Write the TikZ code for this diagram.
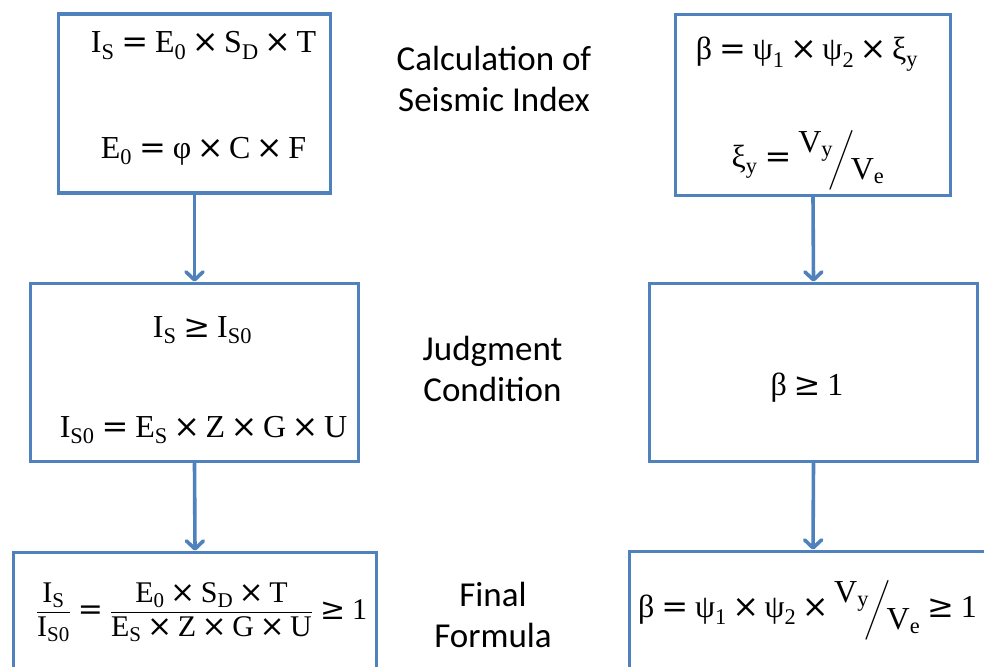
\documentclass[tikz,border=0pt]{standalone}
\usepackage{amsmath}
\usepackage{fontspec}
\setmainfont{Carlito}
\setmathrm{Liberation Serif}
\newfontfamily\lsr{Liberation Serif}
\newfontfamily\dvs{DejaVu Serif}
\usetikzlibrary{arrows.meta}
\definecolor{boxblue}{HTML}{4F81BD}
\newcommand\gk[1]{\text{\lsr #1}}
\newcommand\rr[1]{\mathrm{#1}}
\newcommand\teq{\mathrel{\text{\dvs =}}}
\newcommand\tx{\mathbin{\text{\dvs ×}}}
\newcommand\tge{\mathrel{\text{\dvs ≥}}}
\newcommand\vfr{\raisebox{0.45em}{$\rr{V}_{\rr{y}}$}\mkern-3mu\bigg/\mkern-3mu\raisebox{-0.4em}{$\rr{V}_{\rr{e}}$}}
\tikzset{
  box/.style={draw=boxblue, line width=3.6pt, rectangle, inner sep=0pt},
  eq/.style={font=\fontsize{32}{38}\selectfont, inner sep=0pt, anchor=base},
  eqs/.style={eq, font=\fontsize{30}{36}\selectfont},
  lbl/.style={font=\fontsize{35}{41}\selectfont, inner sep=0pt, anchor=base, align=center},
  flow/.style={draw=boxblue, line width=3.6pt, line cap=round, -{Straight Barb[length=8pt,width=17pt,line cap=round,line join=round]}}
}
\begin{document}
\begin{tikzpicture}[x=1pt,y=-1pt]
\clip (0,0) rectangle (984,666);
\useasboundingbox (0,0) rectangle (984,666);
\fill[white] (0,0) rectangle (984,666);
% boxes
\node[box, minimum width=272pt, minimum height=179pt] (A) at (194.5,103.5) {};
\node[box, minimum width=275pt, minimum height=181pt] (B) at (813,105) {};
\node[box, minimum width=328pt, minimum height=178pt] (C) at (194.5,372.5) {};
\node[box, minimum width=328pt, minimum height=178pt] (D) at (813.5,372.5) {};
\node[box, minimum width=363pt, minimum height=168pt] (E) at (195,636.5) {};
\node[box, minimum width=367pt, minimum height=169pt] (F) at (813,636) {};
% connectors
\draw[flow] (A.south) -- (C.north);
\draw[flow] (C.south) -- (E.north);
\draw[flow] (B.south) -- (D.north);
\draw[flow] (D.south) -- (F.north);
% formulas
\node[eq] (a1) at (203.5,53) {$\rr{I}_{\rr{S}}\teq\rr{E}_{\rr{0}}\tx\rr{S}_{\rr{D}}\tx\rr{T}$};
\node[eq] (a2) at (203.5,158) {$\rr{E}_{\rr{0}}\teq\gk{φ}\tx\rr{C}\tx\rr{F}$};
\node[eq] (b1) at (807,60) {$\gk{β}\teq\gk{ψ}_{\rr{1}}\tx\gk{ψ}_{\rr{2}}\tx\gk{ξ}_{\rr{y}}$};
\node[eq] (b2) at (808,167) {$\gk{ξ}_{\rr{y}}\teq\vfr$};
\node[eq] (c1) at (202.5,337) {$\rr{I}_{\rr{S}}\tge\rr{I}_{\rr{S0}}$};
\node[eq] (c2) at (203.5,437) {$\rr{I}_{\rr{S0}}\teq\rr{E}_{\rr{S}}\tx\rr{Z}\tx\rr{G}\tx\rr{U}$};
\node[eq] (d1) at (807,395) {$\gk{β}\tge\rr{1}$};
\node[eqs] (e1) at (201.5,619) {$\dfrac{\rr{I}_{\rr{S}}}{\rr{I}_{\rr{S0}}}\teq\dfrac{\rr{E}_{\rr{0}}\tx\rr{S}_{\rr{D}}\tx\rr{T}}{\rr{E}_{\rr{S}}\tx\rr{Z}\tx\rr{G}\tx\rr{U}}\tge\rr{1}$};
\node[eq] (f1) at (807.5,617) {$\gk{β}\teq\gk{ψ}_{\rr{1}}\tx\gk{ψ}_{\rr{2}}\tx\vfr\tge\rr{1}$};
% labels
\node[lbl] (l1) at (494,112) {Calculation of\\Seismic Index};
\node[lbl] (l2) at (492.5,401) {Judgment\\Condition};
\node[lbl] (l3) at (493,647) {Final\\Formula};
\end{tikzpicture}
\end{document}
